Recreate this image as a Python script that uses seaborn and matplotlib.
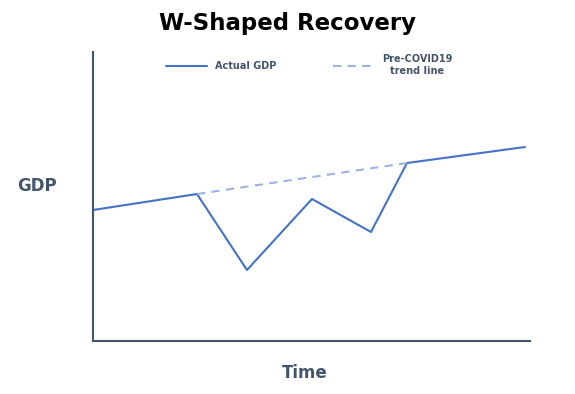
import numpy as np
import pandas as pd
import matplotlib
matplotlib.use("Agg")
import matplotlib.pyplot as plt
import seaborn as sns

# data (arbitrary units)
time_actual = [0, 104, 154, 219, 278, 314, 432]
gdp_actual = [131, 147, 71, 142, 109, 178, 194]
time_trend = [104, 314]
gdp_trend = [147, 178]

sns.set_style("white")
plt.rcParams['font.family'] = ['DejaVu Sans']

slate = '#44546A'

fig = plt.figure(figsize=(5.75, 3.94), dpi=100)
ax = fig.add_axes([0.1617, 0.1345, 0.76, 0.7335])

df_a = pd.DataFrame({'time': time_actual, 'gdp': gdp_actual})
df_t = pd.DataFrame({'time': time_trend, 'gdp': gdp_trend})
sns.lineplot(data=df_a, x='time', y='gdp', ax=ax, color='#4472C4', lw=1.5,
             label='Actual GDP')
sns.lineplot(data=df_t, x='time', y='gdp', ax=ax, color='#9DB4E0', lw=1.5,
             linestyle=(0, (4, 3)), label='Pre-COVID19\ntrend line')

ax.set_xlim(0, 437)
ax.set_ylim(0, 289)
ax.set_xticks([])
ax.set_yticks([])
ax.set_xlabel('')
ax.set_ylabel('')
sns.despine(ax=ax)
for s in ['left', 'bottom']:
    ax.spines[s].set_color(slate)
    ax.spines[s].set_linewidth(1.5)

leg = ax.legend(loc='upper center', bbox_to_anchor=(0.495, 1.022), ncol=2, frameon=False,
                handlelength=4.2, columnspacing=5.9, prop={'weight': 'bold', 'size': 7})
for t in leg.get_texts():
    t.set_color(slate)
    t.set_ha('center')

fig.text(0.5, 0.94, 'W-Shaped Recovery', ha='center', va='center',
         fontsize=16.5, fontweight='bold', color='black')
fig.text(37 / 575, 1 - 186 / 394, 'GDP', ha='center', va='center',
         fontsize=12, fontweight='bold', color=slate)
fig.text(305 / 575, 1 - 373 / 394, 'Time', ha='center', va='center',
         fontsize=12, fontweight='bold', color=slate)

fig.savefig('out.png', dpi=100)
